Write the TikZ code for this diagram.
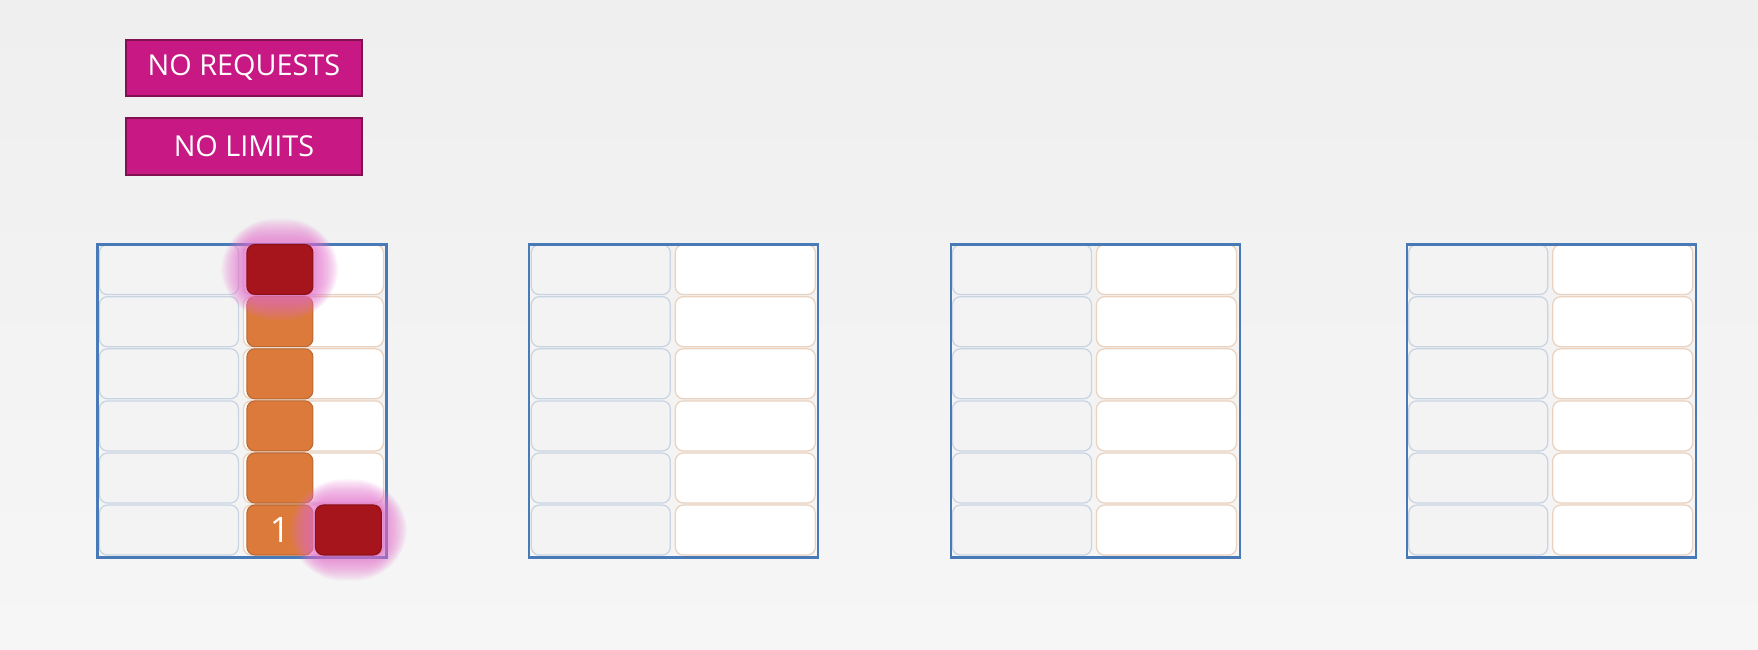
\documentclass[tikz,border=0pt]{standalone}
\usepackage{fontspec}
\setmainfont{Open Sans}
\definecolor{bgTop}{RGB}{239,239,239}
\definecolor{bgLow}{RGB}{246,246,246}
\definecolor{tagFill}{RGB}{199,24,132}
\definecolor{tagEdge}{RGB}{128,18,82}
\definecolor{boxBlue}{RGB}{72,122,184}
\definecolor{freeFill}{RGB}{243,243,244}
\definecolor{freeEdge}{RGB}{200,212,226}
\definecolor{spareEdge}{RGB}{234,210,190}
\definecolor{usedOrange}{RGB}{220,122,60}
\definecolor{hogRed}{RGB}{166,20,28}
\definecolor{glowPink}{RGB}{230,110,205}
\begin{document}
\begin{tikzpicture}[x=0.1mm, y=-0.1mm,
tag/.style={draw=tagEdge, line width=0.5pt, fill=tagFill, text=white, minimum width=23.6mm, inner sep=0pt, font=\fontsize{8.2}{10}\selectfont},
node box/.style={draw=boxBlue, line width=0.6pt, minimum width=28.9mm, minimum height=31.3mm, inner sep=0pt, anchor=north west},
free/.style={draw=freeEdge, fill=freeFill, rounded corners=0.8mm, line width=0.35pt, minimum width=13.9mm, minimum height=5mm, inner sep=0pt},
spare/.style={free, draw=spareEdge, fill=white, minimum width=14mm},
used/.style={fill=usedOrange, draw=usedOrange!85!black, line width=0.3pt, rounded corners=0.8mm, minimum width=6.6mm, minimum height=5mm, inner sep=0pt, text=white, font=\fontsize{10}{12}\selectfont},
hog/.style={used, fill=hogRed, draw=hogRed!85!black},
halo/.style={fill=glowPink, opacity=0.08, inner sep=0pt}]
\shade[top color=bgTop, bottom color=bgLow] (0,0) rectangle (1758,650);
\useasboundingbox (0,0) rectangle (1758,650);
\node[tag, minimum height=5.57mm] (noreq) at (244,67.9) {NO REQUESTS};
\node[tag, minimum height=5.7mm] (nolim) at (244,146.2) {NO LIMITS};
\foreach \L [count=\n] in {96.4,528.3,949.5,1405.7} {
  \foreach \r in {1,...,6} {
    \node[free] (free\n-\r) at (\L+72.5,243.5+52.1*\r-26) {};
    \node[spare] (spare\n-\r) at (\L+217,243.5+52.1*\r-26) {};
  }
  \node[node box] (box\n) at (\L,243.5) {};
}
\foreach \r in {2,...,5}
  \node[used] (pod\r) at (279.9,243.5+52.1*\r-26) {};
\node[used] (pod6) at (279.9,530) {1};
\coordinate (hot1) at (279.9,269.5);
\coordinate (hot2) at (348.4,530);
% soft pink glow
\foreach \g in {1,...,15} {
  \node[halo, rounded corners={0.8mm+0.3mm*\g}, minimum width={6.6mm+0.34mm*\g}, minimum height={5mm+0.34mm*\g}] (halotop\g) at (hot1) {};
  \node[halo, rounded corners={0.8mm+0.3mm*\g}, minimum width={6.6mm+0.34mm*\g}, minimum height={5mm+0.34mm*\g}] (halobot\g) at (hot2) {};
}
\node[hog] (hog1) at (hot1) {};
\node[hog] (hog2) at (hot2) {};
\end{tikzpicture}
\end{document}
